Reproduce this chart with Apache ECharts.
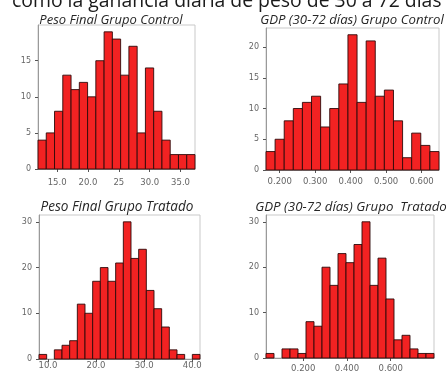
<!DOCTYPE html>
<html>
<head>
<meta charset="utf-8">
<script src="https://cdn.jsdelivr.net/npm/echarts@6/dist/echarts.min.js"></script>
<style>
  html, body { margin: 0; padding: 0; background: #fff; }
  #chart { width: 446px; height: 374px; }
</style>
</head>
<body>
<div id="chart"></div>
<script>
// Histogram counts per bin, left to right
const pesoControlCounts = [4, 5, 8, 13, 11, 12, 10, 15, 19, 18, 13, 17, 5, 14, 8, 4, 2, 2, 2];
const gdpControlCounts = [3, 5, 8, 10, 11, 12, 7, 10, 14, 22, 11, 21, 12, 13, 8, 2, 6, 4, 3];
const pesoTratadoCounts = [1, 0, 2, 3, 4, 12, 10, 17, 20, 17, 21, 30, 22, 24, 15, 11, 7, 2, 1, 0, 1];
const gdpTratadoCounts = [1, 0, 2, 2, 1, 8, 7, 20, 16, 23, 21, 25, 30, 16, 22, 13, 4, 5, 2, 1, 1];

// Bin layout: first edge and bin width (data units)
const pesoControlBins = { start: 11.9, width: 1.339 };
const gdpControlBins = { start: 0.1613, width: 0.02568 };
const pesoTratadoBins = { start: 8.14, width: 1.594 };
const gdpTratadoBins = { start: 0.030, width: 0.03657 };

// Axis tick positions and their label texts
const pesoControlTicks = [15, 20, 25, 30, 35];
const pesoControlTickLabels = ['15.0', '20.0', '25', '30.0', '35.0'];
const gdpControlTicks = [0.2, 0.3, 0.4, 0.5, 0.6];
const gdpControlTickLabels = ['0.200', '0.300', '0.400', '0.500', '0.600'];
const pesoTratadoTicks = [10, 20, 30, 40];
const pesoTratadoTickLabels = ['10.0', '20.0', '30.0', '40.0'];
const gdpTratadoTicks = [0.2, 0.4, 0.6];
const gdpTratadoTickLabels = ['0.200', '0.400', '0.600'];

const controlPesoYTicks = [0, 5, 10, 15];
const controlGdpYTicks = [0, 5, 10, 15, 20];
const tratadoYTicks = [0, 10, 20, 30];

const panelTitles = [
  'Peso Final Grupo Control',
  'GDP (30-72 días) Grupo Control',
  'Peso Final Grupo Tratado',
  'GDP (30-72 días) Grupo  Tratado'
];
const headerText = 'como la ganancia diaria de peso de 30 a 72 días';

const BAR_FILL = '#f22222';
const BAR_EDGE = '#2e0a0a';
const TICK_FONT = 'DejaVu Sans';

function binRows(counts, bins) {
  return counts.map((c, i) => [bins.start + i * bins.width, bins.start + (i + 1) * bins.width, c]);
}

function labelFrom(ticks, texts) {
  return function (v) {
    let best = 0;
    for (let i = 1; i < ticks.length; i++) {
      if (Math.abs(ticks[i] - v) < Math.abs(ticks[best] - v)) best = i;
    }
    return texts[best];
  };
}

const panels = [
  { grid: { left: 38, top: 25, width: 157, height: 144 }, counts: pesoControlCounts, bins: pesoControlBins,
    xt: pesoControlTicks, xl: pesoControlTickLabels, yt: controlPesoYTicks, xMargin: 9 },
  { grid: { left: 266, top: 28, width: 173, height: 142 }, counts: gdpControlCounts, bins: gdpControlBins,
    xt: gdpControlTicks, xl: gdpControlTickLabels, yt: controlGdpYTicks, xMargin: 7 },
  { grid: { left: 39, top: 215, width: 161, height: 144 }, counts: pesoTratadoCounts, bins: pesoTratadoBins,
    xt: pesoTratadoTicks, xl: pesoTratadoTickLabels, yt: tratadoYTicks, xMargin: 2 },
  { grid: { left: 266, top: 215, width: 168, height: 143 }, counts: gdpTratadoCounts, bins: gdpTratadoBins,
    xt: gdpTratadoTicks, xl: gdpTratadoTickLabels, yt: tratadoYTicks, xMargin: 6 }
];

// Title centre x, centre y, font size
const titlePlacement = [[111, 20, 13], [352, 20, 13.2], [117, 207, 13.6], [351, 207, 13.3]];

const option = {
  animation: false,
  backgroundColor: '#ffffff',
  grid: panels.map(p => Object.assign({
    show: true, borderColor: '#c9c9c9', borderWidth: 1, backgroundColor: '#ffffff'
  }, p.grid)),
  xAxis: panels.map((p, i) => ({
    type: 'value',
    gridIndex: i,
    min: p.bins.start,
    max: p.bins.start + p.counts.length * p.bins.width,
    splitLine: { show: false },
    axisLine: { show: true, onZero: false, lineStyle: { color: '#9a9a9a', width: 1 } },
    axisTick: { show: true, length: 3, customValues: p.xt, lineStyle: { color: '#555' } },
    axisLabel: {
      customValues: p.xt,
      formatter: labelFrom(p.xt, p.xl),
      fontFamily: TICK_FONT, fontSize: 8.5, color: '#666', margin: p.xMargin
    }
  })),
  yAxis: panels.map((p, i) => {
    const maxCount = Math.max.apply(null, p.counts);
    return {
      type: 'value',
      gridIndex: i,
      min: 0,
      max: maxCount * 1.05,
      splitLine: { show: false },
      axisLine: { show: true, lineStyle: { color: '#9a9a9a', width: 1 } },
      axisTick: { show: true, length: 3, customValues: p.yt, lineStyle: { color: '#555' } },
      axisLabel: {
        customValues: p.yt,
        formatter: v => String(Math.round(v)),
        fontFamily: TICK_FONT, fontSize: 8, color: '#666', margin: 7
      }
    };
  }),
  series: panels.map((p, i) => ({
    type: 'custom',
    xAxisIndex: i,
    yAxisIndex: i,
    data: binRows(p.counts, p.bins).filter(r => r[2] > 0),
    encode: { x: [0, 1], y: 2 },
    renderItem: function (params, api) {
      const top = api.coord([api.value(0), api.value(2)]);
      const bottom = api.coord([api.value(1), 0]);
      return {
        type: 'rect',
        shape: { x: top[0], y: top[1], width: bottom[0] - top[0], height: bottom[1] - top[1] },
        style: { fill: BAR_FILL, stroke: BAR_EDGE, lineWidth: 0.9 }
      };
    }
  })),
  graphic: [
    {
      type: 'text', x: 12, y: 10.5,
      style: {
        text: headerText, font: '19.4px "Open Sans"', fill: '#1a1a1a',
        align: 'left', verticalAlign: 'bottom'
      }
    }
  ].concat(panelTitles.map((t, i) => ({
    type: 'text',
    x: titlePlacement[i][0], y: titlePlacement[i][1],
    style: {
      text: t, font: 'italic ' + titlePlacement[i][2] + 'px "Open Sans"', fill: '#262626',
      align: 'center', verticalAlign: 'middle'
    }
  })))
};

const chart = echarts.init(document.getElementById('chart'), null, { renderer: 'canvas' });
chart.setOption(option);
</script>
</body>
</html>
